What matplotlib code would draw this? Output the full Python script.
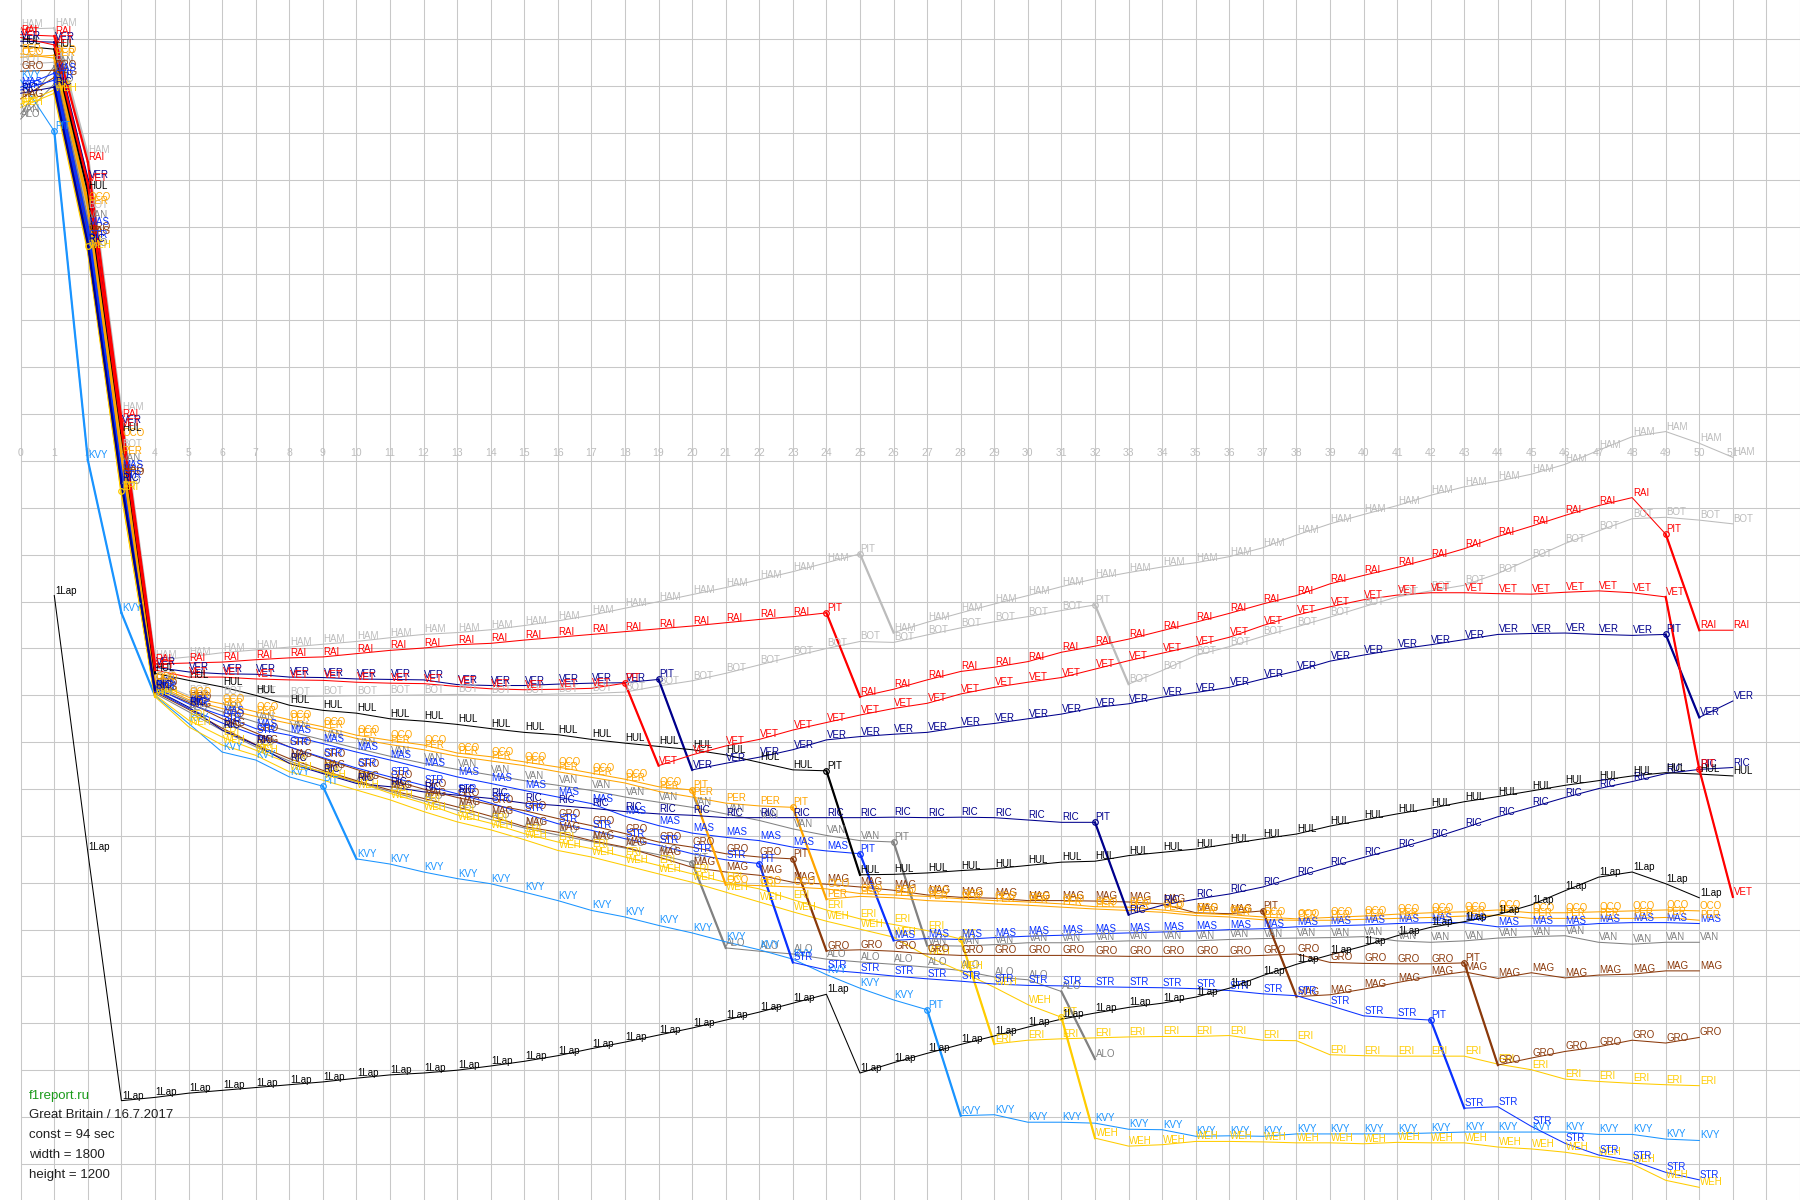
import matplotlib
matplotlib.use('Agg')
import matplotlib.pyplot as plt

plt.rcParams['font.family'] = ['Liberation Sans', 'DejaVu Sans']

CONST = 94          # seconds per lap used as reference
LAST_LAP = 51

# gap (s) = CONST * lap - race time, one value per lap starting at lap 0
HAM = [92.2, 92.4, 65.3, 10.5, -42.5, -41.8, -40.9, -40.3, -39.7, -39.1,
       -38.5, -37.7, -37.0, -36.6, -36.0, -35.1, -34.1, -32.9, -31.4, -30.0,
       -28.5, -27.0, -25.3, -23.6, -21.7, -19.8, -36.6, -34.4, -32.4, -30.5,
       -28.7, -26.8, -25.1, -23.8, -22.6, -21.7, -20.4, -18.5, -15.8, -13.4,
       -11.4, -9.5, -7.3, -5.5, -4.3, -2.8, -0.7, 2.3, 5.2, 6.3,
       3.8, 0.8]
BOT = [84.7, 85.1, 53.6, 2.6, -47.0, -50.0, -50.1, -50.2, -50.3, -50.2,
       -50.1, -50.0, -49.9, -49.8, -49.9, -49.9, -49.7, -49.6, -49.3, -48.0,
       -46.9, -45.3, -43.5, -41.7, -40.0, -38.5, -38.7, -37.1, -35.6, -34.3,
       -33.2, -31.9, -30.7, -47.6, -44.7, -41.5, -39.6, -37.4, -35.4, -33.3,
       -31.1, -29.0, -27.7, -26.5, -24.0, -20.8, -17.6, -14.9, -12.3, -12.0,
       -12.6, -13.4]
RAI = [91.0, 90.7, 63.8, 9.0, -43.3, -43.1, -42.9, -42.4, -42.0, -41.8,
       -41.1, -40.4, -39.9, -39.2, -38.9, -38.2, -37.6, -37.0, -36.4, -35.8,
       -35.2, -34.5, -33.8, -33.2, -32.4, -50.3, -48.7, -46.7, -44.9, -44.0,
       -42.8, -40.8, -39.5, -38.0, -36.2, -34.4, -32.5, -30.5, -28.7, -26.2,
       -24.4, -22.7, -20.8, -18.7, -16.1, -13.9, -11.6, -9.5, -7.8, -15.6,
       -36.1, -36.1]
VET = [90.4, 88.8, 59.3, 7.0, -44.6, -46.1, -46.1, -46.5, -46.7, -46.8,
       -47.2, -47.4, -47.5, -48.1, -48.6, -48.8, -48.7, -48.5, -47.4, -65.0,
       -62.7, -60.8, -59.4, -57.4, -55.8, -54.2, -52.8, -51.7, -49.7, -48.3,
       -47.2, -46.2, -44.4, -42.6, -41.0, -39.4, -37.6, -35.1, -32.9, -31.1,
       -29.6, -28.6, -28.1, -28.1, -28.3, -28.4, -28.0, -27.7, -28.1, -29.0,
       -65.8, -93.0]
VER = [89.6, 89.4, 60.0, 7.7, -44.0, -45.0, -45.4, -45.5, -46.1, -46.2,
       -46.5, -46.6, -46.7, -47.7, -47.9, -47.9, -47.6, -47.4, -47.3, -46.6,
       -65.9, -64.5, -63.2, -61.6, -59.5, -58.8, -58.3, -57.9, -56.8, -56.0,
       -55.0, -54.0, -52.6, -51.8, -50.4, -49.4, -48.3, -46.5, -44.8, -42.7,
       -41.4, -40.2, -39.2, -38.1, -37.0, -36.8, -36.7, -37.0, -37.2, -37.0,
       -54.7, -51.2]
HUL = [88.6, 87.9, 57.6, 6.0, -45.3, -46.8, -48.2, -50.0, -52.1, -53.2,
       -53.8, -55.0, -55.5, -56.2, -57.1, -57.9, -58.4, -59.4, -60.2, -60.9,
       -61.6, -62.7, -64.3, -65.9, -66.1, -88.3, -88.2, -87.9, -87.4, -87.0,
       -86.3, -85.6, -85.4, -84.2, -83.5, -82.8, -81.7, -80.6, -79.6, -77.9,
       -76.6, -75.3, -74.1, -72.7, -71.6, -70.4, -69.2, -68.2, -67.2, -66.5,
       -66.8, -67.2]
RIC = [78.5, 79.8, 46.3, -4.7, -48.8, -52.5, -57.4, -60.6, -64.5, -66.7,
       -68.8, -69.5, -70.6, -71.3, -72.0, -73.0, -73.5, -74.1, -74.8, -75.3,
       -75.6, -76.1, -76.1, -76.1, -76.1, -76.1, -76.0, -76.1, -76.0, -76.1,
       -76.6, -77.1, -77.1, -96.8, -94.8, -93.5, -92.4, -90.9, -88.7, -86.6,
       -84.6, -82.7, -80.6, -78.3, -75.9, -73.9, -71.8, -69.9, -68.4, -66.7,
       -65.8, -65.4]
OCO = [86.2, 86.6, 55.3, 4.9, -47.2, -50.4, -51.8, -53.5, -55.2, -56.7,
       -58.5, -59.6, -60.6, -62.3, -63.1, -64.2, -65.3, -66.6, -67.9, -69.5,
       -70.2, -90.4, -90.6, -90.9, -91.3, -92.3, -92.6, -92.9, -93.4, -93.8,
       -94.1, -94.5, -95.1, -95.2, -95.8, -96.5, -96.8, -97.3, -97.7, -97.4,
       -97.1, -96.7, -96.4, -96.2, -95.8, -96.4, -96.4, -96.2, -96.0, -95.8,
       -96.0]
PER = [86.9, 86.0, 54.4, 1.1, -47.6, -50.9, -52.8, -54.5, -56.0, -57.4,
       -59.2, -60.5, -61.6, -63.0, -64.0, -65.0, -66.3, -67.5, -68.7, -70.5,
       -71.7, -73.0, -73.6, -73.9, -93.5, -92.9, -93.2, -93.8, -94.1, -94.5,
       -94.8, -95.2, -95.6, -95.9, -96.3, -97.0, -97.3, -97.9, -98.0, -98.0,
       -97.8, -97.6, -97.4, -97.1, -96.9, -97.6, -97.6, -97.6, -97.6, -97.4,
       -98.0]
MAS = [79.8, 82.8, 49.9, -1.9, -48.3, -51.8, -54.3, -57.1, -58.5, -60.3,
       -62.1, -63.8, -65.6, -67.4, -68.8, -70.3, -71.7, -73.1, -75.8, -77.8,
       -79.4, -80.3, -81.0, -82.4, -83.2, -83.8, -102.3, -101.9, -102.1, -101.7,
       -101.4, -101.2, -100.9, -100.7, -100.5, -100.3, -100.0, -99.8, -99.4, -99.2,
       -99.0, -98.7, -98.5, -98.5, -99.4, -99.2, -99.2, -98.7, -98.5, -98.5,
       -98.7]
STR = [79.2, 81.3, 47.2, -4.1, -49.0, -52.8, -55.9, -58.5, -61.0, -63.3,
       -65.5, -67.4, -69.2, -71.0, -73.0, -75.2, -77.4, -78.8, -80.6, -82.0,
       -83.8, -85.1, -85.9, -107.0, -108.6, -109.2, -109.9, -110.5, -111.0, -111.6,
       -111.9, -112.0, -112.2, -112.3, -112.4, -112.6, -113.0, -113.7, -114.1, -116.2,
       -118.4, -118.9, -119.3, -138.1, -137.8, -142.0, -145.6, -148.1, -149.3, -151.8,
       -153.4]
VAN = [74.1, 84.3, 51.4, -0.4, -48.0, -51.2, -53.5, -55.7, -57.7, -59.5,
       -61.3, -63.0, -64.5, -65.8, -67.0, -68.2, -69.2, -70.3, -71.7, -72.8,
       -73.9, -75.3, -76.7, -78.5, -79.9, -81.0, -81.3, -103.4, -103.5, -103.2,
       -102.8, -102.8, -102.6, -102.4, -102.4, -102.4, -102.1, -101.9, -101.8, -101.7,
       -101.5, -102.4, -102.7, -102.4, -101.8, -101.5, -101.3, -102.7, -103.1, -102.7,
       -102.7]
GRO = [83.2, 83.4, 48.9, -3.4, -48.5, -51.5, -55.0, -58.0, -61.0, -63.5,
       -65.8, -68.0, -70.0, -71.8, -73.3, -74.6, -76.3, -77.8, -79.5, -81.3,
       -82.4, -83.8, -84.5, -84.9, -104.5, -104.3, -104.6, -105.2, -105.5, -105.5,
       -105.5, -105.5, -105.6, -105.7, -105.7, -105.7, -105.7, -105.5, -105.2, -107.0,
       -107.2, -107.3, -107.3, -107.1, -128.9, -127.4, -126.0, -125.0, -123.6, -124.2,
       -123.0]
MAG = [77.3, 81.9, 48.0, -2.8, -49.3, -53.0, -57.0, -60.5, -63.5, -66.0,
       -68.2, -70.2, -72.0, -73.8, -75.8, -78.0, -79.2, -81.0, -82.4, -84.5,
       -86.7, -87.7, -88.4, -89.9, -90.3, -90.9, -91.6, -92.6, -93.1, -93.3,
       -93.8, -93.8, -93.9, -94.1, -94.5, -96.4, -96.6, -96.0, -114.3, -113.9,
       -112.7, -111.3, -110.0, -109.0, -110.4, -109.2, -110.3, -109.7, -109.5, -108.8,
       -108.8]
ALO = [73.0, 80.5, 45.5, -5.3, -49.6, -53.5, -57.5, -61.0, -64.0, -66.5,
       -68.5, -70.5, -72.5, -74.5, -76.5, -78.3, -79.8, -81.2, -82.6, -84.0,
       -85.7, -103.9, -104.6, -105.2, -106.3, -106.9, -107.4, -108.0, -108.7, -110.1,
       -110.7, -113.2, -127.6]
ERI = [76.2, 79.2, 45.9, -6.6, -49.9, -55.3, -58.9, -61.7, -64.5, -66.3,
       -68.4, -70.9, -73.0, -75.5, -77.3, -79.5, -81.3, -82.7, -84.5, -86.3,
       -88.1, -89.9, -91.3, -93.6, -95.8, -97.7, -98.9, -100.2, -102.0, -124.4,
       -123.6, -123.3, -123.1, -122.9, -122.8, -122.8, -122.6, -123.6, -123.7, -126.7,
       -126.9, -127.0, -127.0, -127.0, -128.7, -129.9, -131.9, -132.4, -132.8, -133.1,
       -133.3]
WEH = [75.5, 78.5, 45.0, -6.4, -50.3, -56.7, -60.6, -62.8, -66.3, -68.1,
       -70.2, -72.3, -74.8, -77.0, -78.7, -80.8, -83.1, -84.5, -86.3, -88.1,
       -89.9, -92.0, -94.1, -96.2, -98.2, -99.9, -101.6, -105.7, -108.9, -112.3,
       -116.0, -118.7, -144.5, -146.2, -145.9, -145.2, -145.2, -145.3, -145.5, -145.5,
       -145.7, -145.4, -145.5, -145.5, -146.4, -146.8, -147.5, -148.6, -150.0, -153.5,
       -155.0]
KVY = [81.3, 70.4, 0.2, -32.4, -50.1, -56.0, -62.1, -63.8, -67.4, -69.4,
       -84.9, -86.0, -87.7, -89.1, -90.2, -92.0, -93.8, -95.9, -97.3, -99.1,
       -100.7, -102.6, -104.3, -106.3, -109.6, -112.5, -115.0, -117.1, -139.7, -139.5,
       -141.1, -141.1, -141.3, -142.6, -142.7, -144.1, -144.0, -144.1, -143.6, -143.6,
       -143.6, -143.6, -143.4, -143.2, -143.2, -143.2, -143.2, -143.7, -143.7, -144.7,
       -145.0]

series = {'HAM': HAM, 'BOT': BOT, 'VAN': VAN, 'ALO': ALO, 'KVY': KVY,
          'WEH': WEH, 'ERI': ERI, 'GRO': GRO, 'MAG': MAG, 'STR': STR,
          'MAS': MAS, 'PER': PER, 'OCO': OCO, 'RIC': RIC, 'VER': VER,
          'HUL': HUL, 'VET': VET, 'RAI': RAI}

pit_laps = {'HAM': [25], 'BOT': [32], 'RAI': [24, 49], 'VET': [18, 50],
            'VER': [19, 49], 'HUL': [24], 'RIC': [32], 'OCO': [20],
            'PER': [23], 'MAS': [25], 'STR': [22, 42], 'VAN': [26],
            'GRO': [23, 43], 'MAG': [37], 'ALO': [20], 'ERI': [2, 28],
            'WEH': [3, 31], 'KVY': [1, 9, 27]}

colors = {'HAM': '#bcbcbc', 'BOT': '#bcbcbc', 'RAI': '#ff0000', 'VET': '#ff0000',
          'VER': '#00008c', 'RIC': '#00008c', 'HUL': '#000000',
          'OCO': '#ffa500', 'PER': '#ffa500', 'MAS': '#0a32ff', 'STR': '#0a32ff',
          'VAN': '#828282', 'ALO': '#828282', 'KVY': '#1a94ff',
          'GRO': '#8b3a0c', 'MAG': '#8b3a0c', 'WEH': '#ffcc00', 'ERI': '#ffcc00'}

GRID = '#c8c8c8'
x_min, x_max = -0.617, 53.0
y_min, y_max = -157.7, 98.4

fig = plt.figure(figsize=(18, 12), dpi=100)
ax = fig.add_axes([0, 0, 1, 1])
ax.set_xlim(x_min, x_max)
ax.set_ylim(y_min, y_max)
ax.axis('off')

# grid
for lap in range(0, 54):
    ax.axvline(lap, color=GRID, lw=0.75, zorder=0)
ax.hlines(range(-150, 91, 10), 0, x_max, color=GRID, lw=0.75, zorder=0)
for lap in range(0, LAST_LAP + 1):
    ax.text(lap, 0.7, str(lap), ha='center', va='bottom', fontsize=7.5,
            color='#bdbdbd', zorder=1)


def draw(vals, color, name, pits, lw=0.75):
    laps = list(range(len(vals)))
    ax.plot(laps, vals, color=color, lw=lw, zorder=2)
    # slow laps (safety car, pit stops) are drawn heavier
    for i in range(len(vals) - 1):
        if vals[i + 1] - vals[i] < -12:
            ax.plot(laps[i:i + 2], vals[i:i + 2], color=color, lw=1.6, zorder=2)
    for lap, v in zip(laps, vals):
        label = name
        if lap in pits:
            label = 'PIT'
            ax.plot(lap, v, 'o', mfc='none', mec=color, ms=4, mew=0.9, zorder=3)
        ax.annotate(label, (lap, v), xytext=(0.5, 0), textcoords='offset points',
                    ha='left', va='bottom', fontsize=7, color=color, zorder=4)


for name, vals in series.items():
    draw(vals, colors[name], name, pit_laps[name])

# one lap behind the leader
lap_line = [HAM[i + 1] - CONST for i in range(1, LAST_LAP)]
lap_x = list(range(1, LAST_LAP))
ax.plot(lap_x, lap_line, color='black', lw=0.75, zorder=2)
for lap, v in zip(lap_x, lap_line):
    ax.annotate('1Lap', (lap, v), xytext=(0.5, 0), textcoords='offset points',
                ha='left', va='bottom', fontsize=7, color='black', zorder=4)

info = ['Great Britain / 16.7.2017', 'const = %d sec' % CONST,
        'width = 1800', 'height = 1200']
ax.text(0.016, 1 - 1096 / 1200, 'f1report.ru', transform=ax.transAxes,
        fontsize=9.5, color='#1a9a1a', va='center', ha='left')
for i, t in enumerate(info):
    ax.text(0.016, 1 - (1115.5 + i * 19.8) / 1200, t, transform=ax.transAxes,
            fontsize=9.5, color='#202020', va='center', ha='left')

fig.savefig('out.png', dpi=100)
